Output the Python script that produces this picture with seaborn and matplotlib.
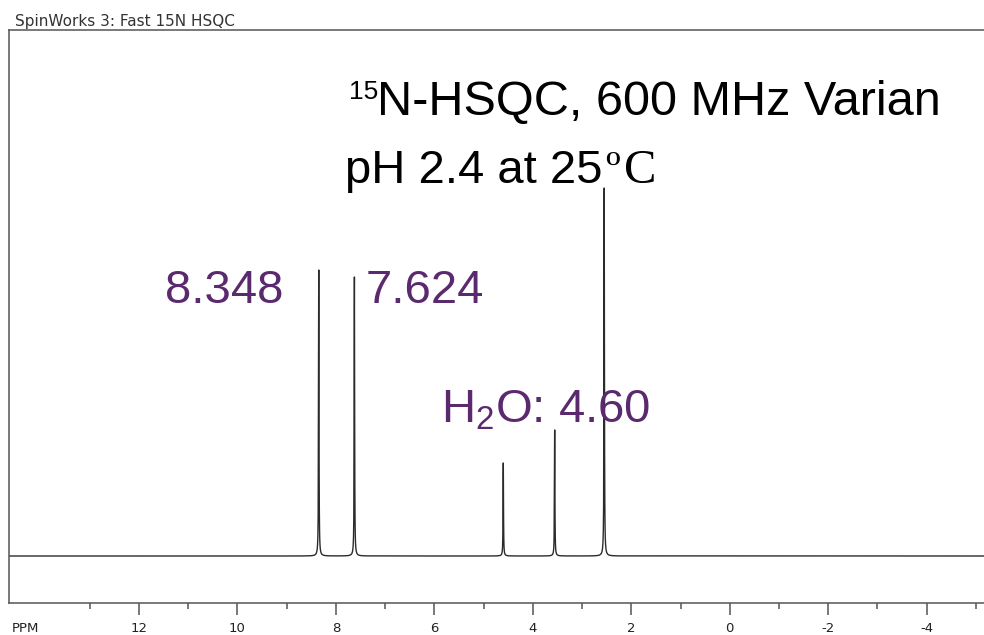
import numpy as np
import pandas as pd
import matplotlib
matplotlib.use("Agg")
import matplotlib.pyplot as plt
from matplotlib.ticker import FixedLocator
import seaborn as sns

# ---- data ----
peak_ppm = [8.348, 7.624, 4.60, 3.556, 2.55]
peak_height = [286, 279, 93, 126, 368]
peak_width = 0.005  # half width at half maximum, ppm
major_ticks = [12, 10, 8, 6, 4, 2, 0, -2, -4]
minor_ticks = [13, 11, 9, 7, 5, 3, 1, -1, -3, -5]
x_range = (14.64, -5.164)
y_range = (-47, 526)

title_text = "SpinWorks 3: Fast 15N HSQC"
sup_text = "15"
line1_text = "N-HSQC, 600 MHz Varian"
line2_text = "pH 2.4 at 25"
degree_sign = "\u00ba"
celsius_text = "C"
peak_labels = ["8.348", "7.624", r"H$\mathregular{_2}$O: 4.60"]

# ---- spectrum built from the peak list ----
ppm = np.arange(x_range[1], x_range[0], 0.0005)
intensity = np.zeros_like(ppm)
for p, h in zip(peak_ppm, peak_height):
    intensity += h * peak_width**2 / ((ppm - p) ** 2 + peak_width**2)
df = pd.DataFrame({"ppm": ppm, "intensity": intensity})

sns.set_theme(style="white")
plt.rcParams["font.family"] = ["DejaVu Sans"]
plt.rcParams["axes.unicode_minus"] = False

W, H = 984, 635
fig = plt.figure(figsize=(W / 100, H / 100), dpi=100)
ax = fig.add_axes([9 / W, 1 - 603 / H, 1 - 9 / W, (603 - 30) / H])

sns.lineplot(data=df, x="ppm", y="intensity", ax=ax, color="#2b2b2b",
             linewidth=1.0, estimator=None, sort=False)

ax.set_xlim(*x_range)
ax.set_ylim(*y_range)
ax.set_xlabel("")
ax.set_ylabel("")
ax.set_yticks([])
ax.xaxis.set_major_locator(FixedLocator(major_ticks))
ax.xaxis.set_minor_locator(FixedLocator(minor_ticks))
ax.set_xticklabels([str(t) for t in major_ticks])
ax.tick_params(axis="x", which="major", direction="out", length=8.5, width=1.1,
               color="#555555", pad=5, labelsize=9.5, labelcolor="#222222",
               bottom=True)
ax.tick_params(axis="x", which="minor", direction="out", length=4.3, width=1.1,
               color="#555555", bottom=True)
for s in ["left", "top", "bottom"]:
    ax.spines[s].set_color("#555555")
    ax.spines[s].set_linewidth(1.1)
    ax.spines[s].set_visible(True)
ax.spines["right"].set_visible(False)

def fx(px):
    return px / W

def fy(py):
    return 1 - py / H

fig.text(fx(15), fy(26), title_text, fontsize=11, color="#333333",
         ha="left", va="baseline", family="DejaVu Sans")
fig.text(fx(12), fy(632), "PPM", fontsize=9.5, color="#222222",
         ha="left", va="baseline", family="DejaVu Sans")

sans = ["Liberation Sans", "DejaVu Sans"]
serif = ["Liberation Serif", "DejaVu Serif"]
big = dict(fontsize=34, family=sans, ha="left", va="baseline")
fig.text(fx(349), fy(99), sup_text, color="black", fontsize=19,
         family=sans, ha="left", va="baseline")
fig.text(fx(377), fy(115), line1_text, color="black",
         **{**big, "fontsize": 35})
fig.text(fx(345), fy(183), line2_text, color="black", **big)
fig.text(fx(605), fy(183), degree_sign, fontsize=34, family=serif,
         color="black", ha="left", va="baseline")
fig.text(fx(624), fy(183), celsius_text, fontsize=35, family=serif,
         color="black", ha="left", va="baseline")

purple = "#5b2a6e"
fig.text(fx(165), fy(303), peak_labels[0], color=purple, **big)
fig.text(fx(366), fy(303), peak_labels[1], color=purple, **big)
fig.text(fx(441), fy(423), peak_labels[2], color=purple, **big)

fig.savefig("out.png", dpi=100)
